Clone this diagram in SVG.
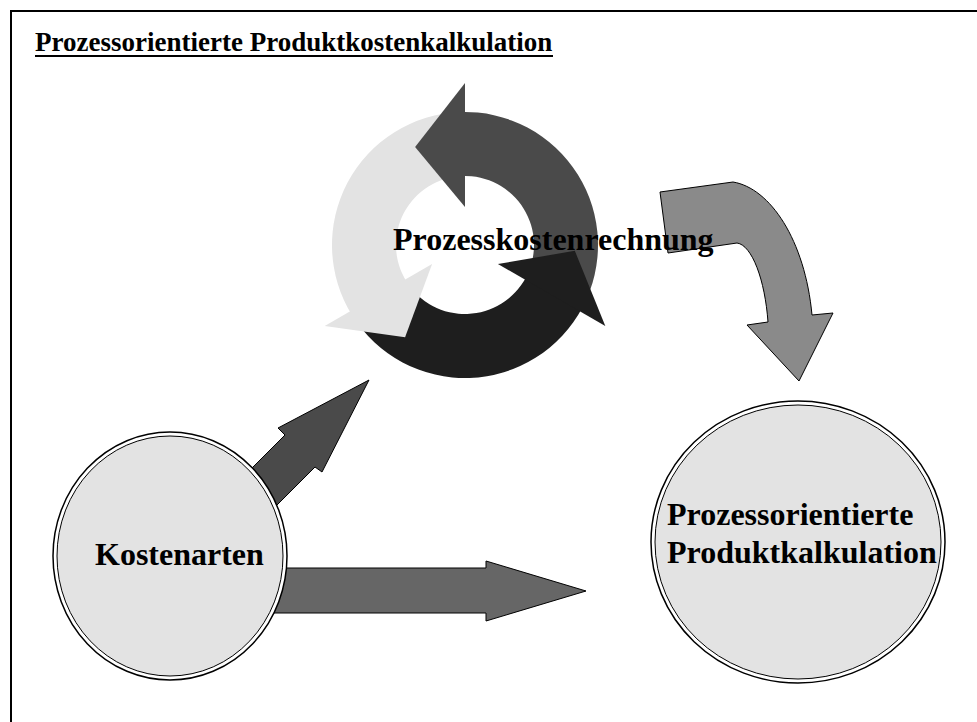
<svg xmlns="http://www.w3.org/2000/svg" xmlns:xlink="http://www.w3.org/1999/xlink" width="977" height="722" viewBox="0 0 977 722">
  <style>
    .label { font-family: "Liberation Serif", "Times New Roman", serif; font-weight: bold; fill: #000; }
    .big { font-size: 32px; }
    .title { font-size: 27px; }
    .conn { stroke: #000; stroke-width: 1; stroke-linejoin: miter; }
    .ring-outer { fill: #fff; stroke: #000; stroke-width: 1.5; }
    .ring-inner { fill: #e3e3e3; stroke: #000; stroke-width: 1; }
  </style>
  <defs>
    <!-- one segment of the cycle: body from 332deg to 92deg (both ends tucked under a head), head at the top -->
    <path id="cycBody" d="M117.43,62.44 A133,133 0 0 0 -4.64,-132.92 L-2.41,-68.96 A69,69 0 0 1 60.92,32.39 Z"/>
    <path id="cycHead" d="M0,-162 L-49.9,-98 L0,-38 Z"/>
  </defs>

  <rect width="977" height="722" fill="#fff"/>

  <!-- frame (runs off the right and bottom edges) -->
  <path d="M11,722 L11,11 L977,11" fill="none" stroke="#000" stroke-width="2"/>

  <!-- heading -->
  <g id="title">
    <text class="label title" x="35" y="51">Prozessorientierte Produktkostenkalkulation</text>
    <line x1="35" y1="56" x2="553" y2="56" stroke="#000" stroke-width="2"/>
  </g>

  <!-- connectors -->
  <g id="connectors">
    <polygon id="arrow-kosten-produkt" class="conn" fill="#666" points="250,568 486,568 486,561 586,591 486,621 486,613 250,613"/>
    <polygon id="arrow-kosten-prozess" class="conn" fill="#4a4a4a" points="369,380 322,472 315,467 265,517 235,485 285,435 278,428"/>
    <path id="arrow-prozess-produkt" class="conn" fill="#8a8a8a" d="M660,192 L733,182 C770,188 805,240 812,315 L833,313 L799,381 L747,325 L768,322 C765,280 752,245 737,243 L668,253 Z"/>
  </g>

  <!-- Kostenarten -->
  <g id="kostenarten">
    <ellipse class="ring-outer" cx="170" cy="556" rx="117" ry="124"/>
    <ellipse class="ring-inner" cx="170" cy="556" rx="113" ry="120"/>
    <text class="label big" x="95" y="565">Kostenarten</text>
  </g>

  <!-- Prozessorientierte Produktkalkulation -->
  <g id="produktkalkulation">
    <ellipse class="ring-outer" cx="798" cy="542" rx="147" ry="141"/>
    <ellipse class="ring-inner" cx="798" cy="542" rx="143" ry="137"/>
    <text class="label big" x="667" y="525">Prozessorientierte</text>
    <text class="label big" x="667" y="563">Produktkalkulation</text>
  </g>

  <!-- Prozesskostenrechnung: cycle of three arrows -->
  <g id="prozesskostenrechnung">
    <g transform="translate(465,245)">
      <use xlink:href="#cycBody" fill="#4a4a4a"/>
      <use xlink:href="#cycBody" fill="#e3e3e3" transform="rotate(-120)"/>
      <use xlink:href="#cycBody" fill="#1e1e1e" transform="rotate(120)"/>
      <use xlink:href="#cycHead" fill="#4a4a4a"/>
      <use xlink:href="#cycHead" fill="#e3e3e3" transform="rotate(-120)"/>
      <use xlink:href="#cycHead" fill="#1e1e1e" transform="rotate(120)"/>
    </g>
    <text class="label big" x="393" y="250">Prozesskostenrechnung</text>
  </g>
</svg>
